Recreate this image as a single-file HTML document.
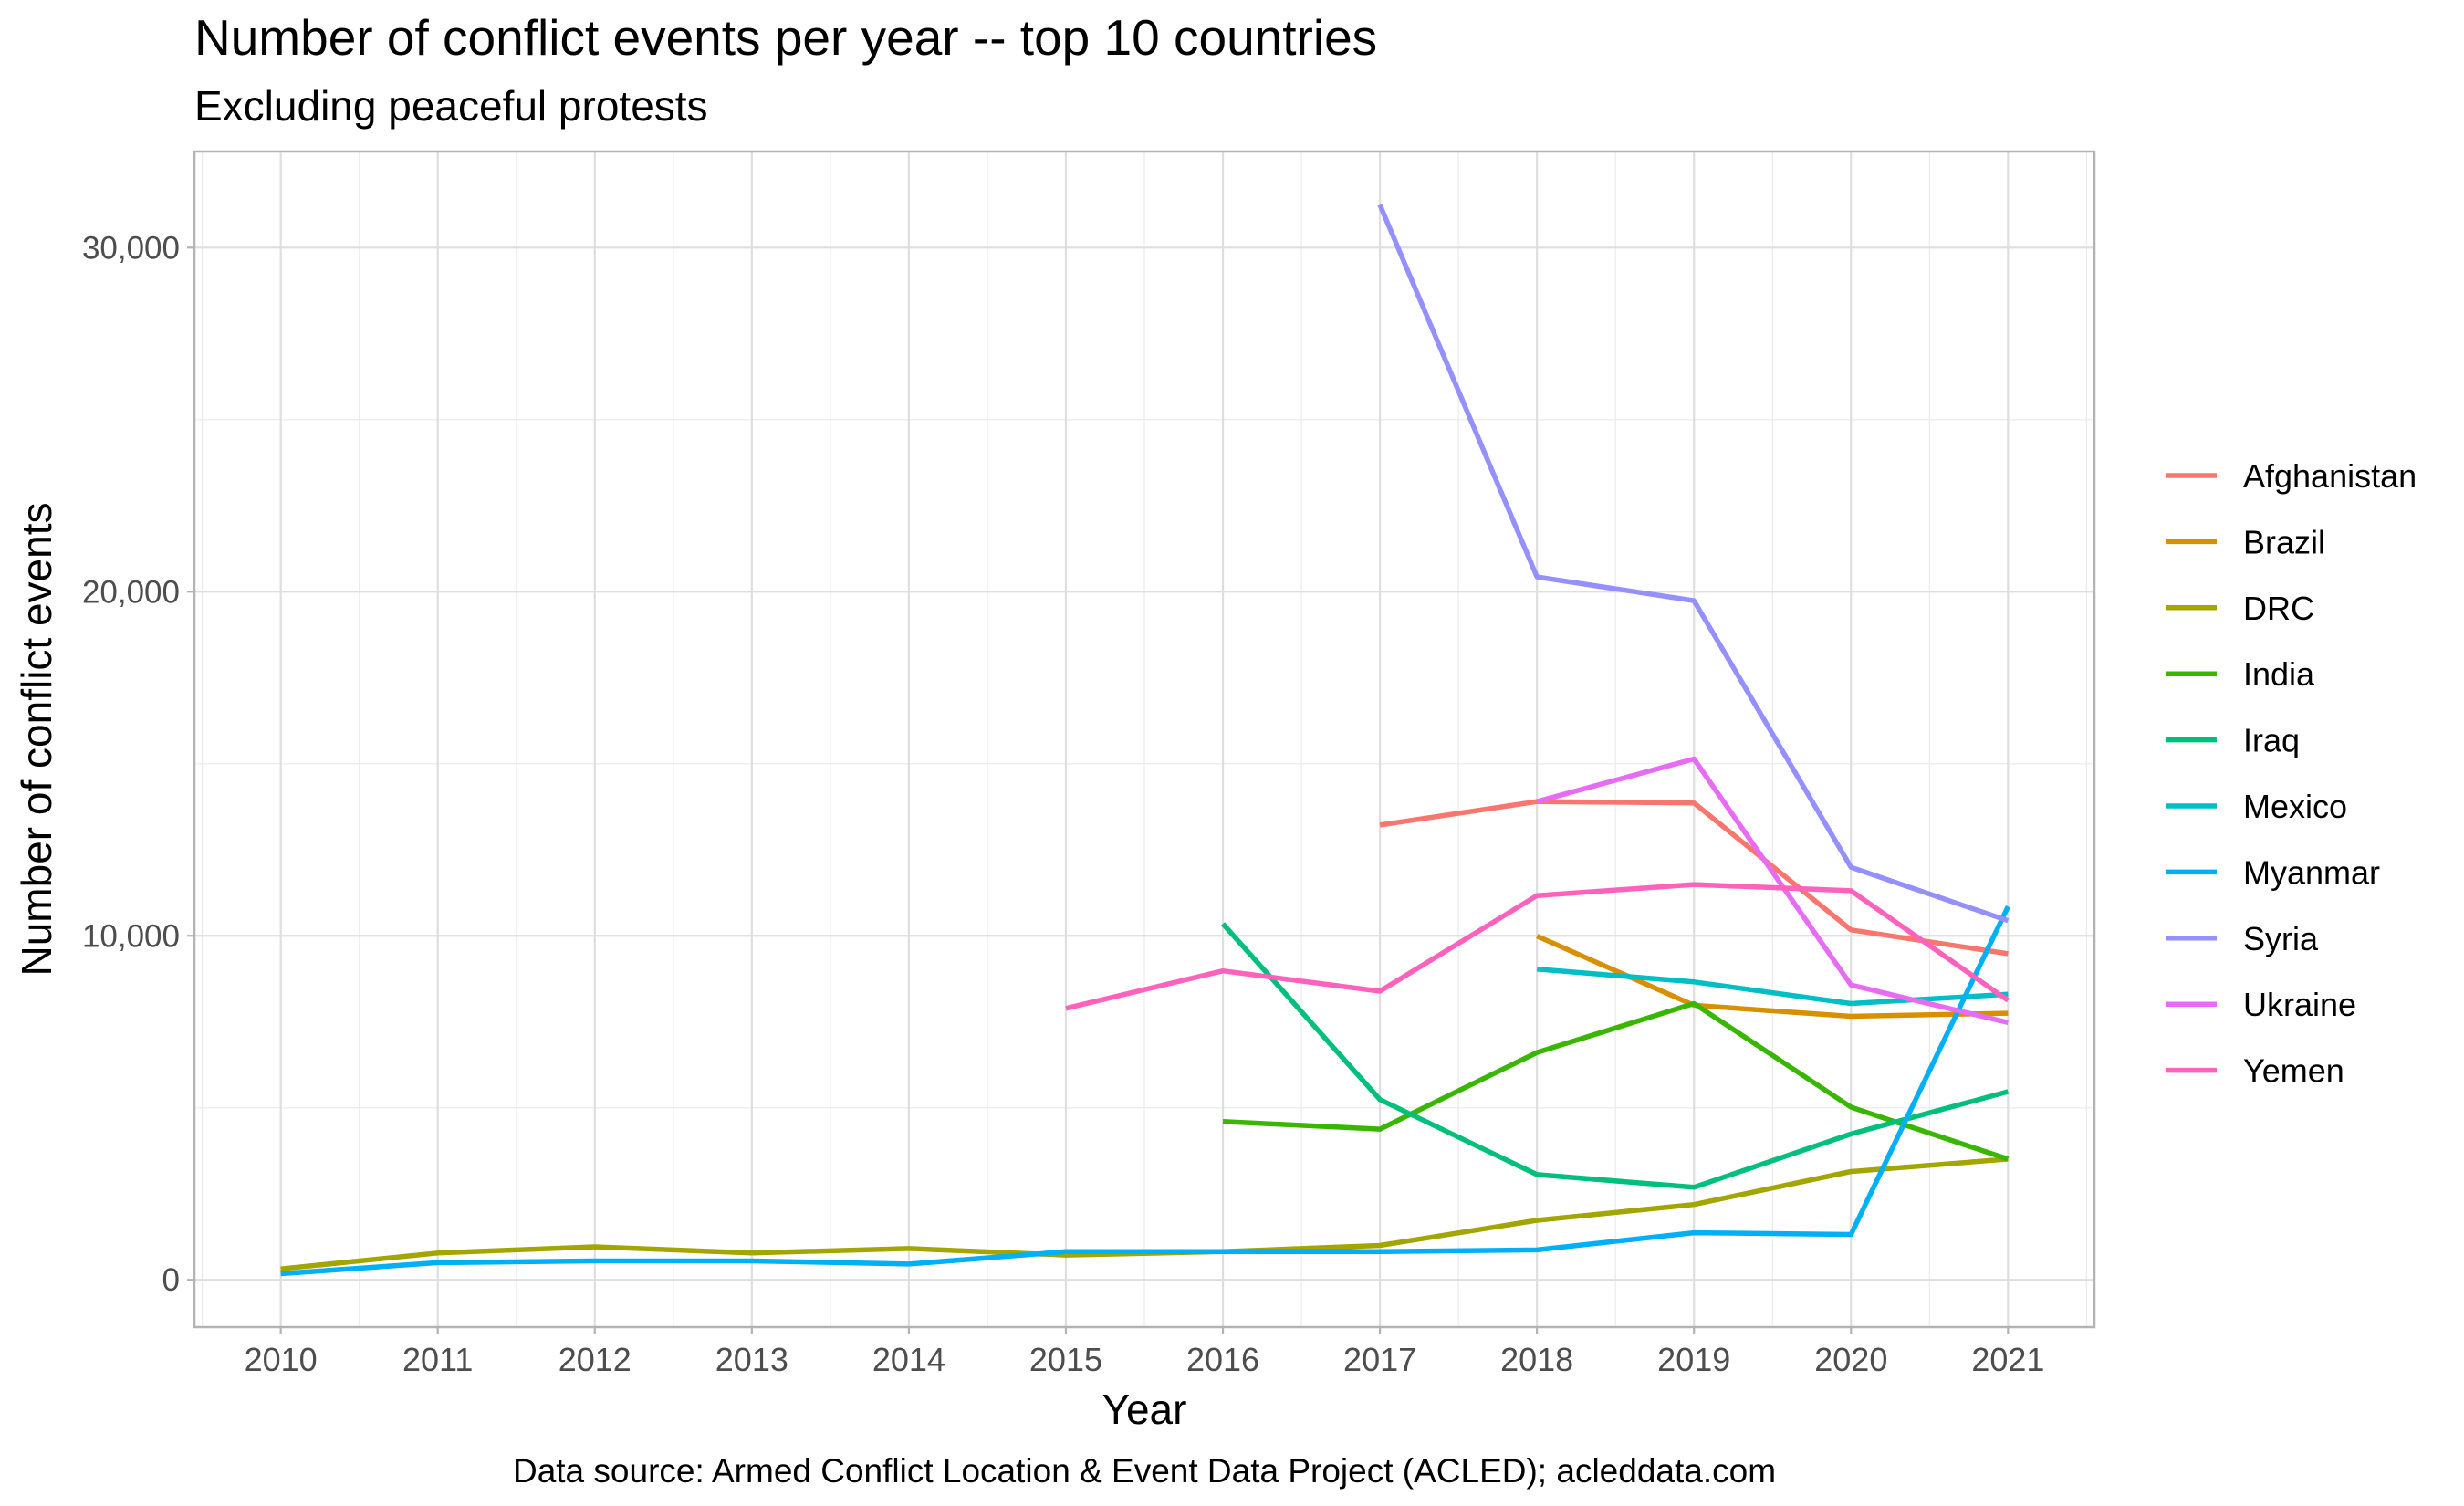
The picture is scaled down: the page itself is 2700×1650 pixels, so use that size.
<!DOCTYPE html>
<html><head><meta charset="utf-8"><style>
html,body{margin:0;padding:0;background:#fff;}
svg{display:block;font-family:"Liberation Sans",Arial,sans-serif;}
</style></head><body>
<svg id="chart" width="2700" height="1650" viewBox="0 0 2700 1650" xmlns="http://www.w3.org/2000/svg">
<rect width="2700" height="1650" fill="#fff"/>
<text x="213" y="60" font-size="55" fill="#000">Number of conflict events per year -- top 10 countries</text>
<text x="213" y="132" font-size="46" fill="#000">Excluding peaceful protests</text>
<g id="grid"></g>
<g id="series"></g>
<rect x="213" y="166" width="2082" height="1288" fill="none" stroke="#b3b3b3" stroke-width="2.5"/>
<g id="axes"></g>
<text x="1254" y="1560" font-size="46" text-anchor="middle" fill="#000">Year</text>
<text transform="translate(56,810) rotate(-90)" font-size="46" text-anchor="middle" fill="#000">Number of conflict events</text>
<text x="1254" y="1624" font-size="37" text-anchor="middle" fill="#000">Data source: Armed Conflict Location &amp; Event Data Project (ACLED); acleddata.com</text>
<g id="legend"></g>
</svg>
<script>
const years = [2010,2011,2012,2013,2014,2015,2016,2017,2018,2019,2020,2021];
const countries = ["Afghanistan","Brazil","DRC","India","Iraq","Mexico","Myanmar","Syria","Ukraine","Yemen"];
const colors = ["#F8766D","#D89000","#A3A500","#39B600","#00BF7D","#00BFC4","#00B0F6","#9590FF","#E76BF3","#FF62BC"];
const yTicks = [0,10000,20000,30000];
const yTickLabels = ["0","10,000","20,000","30,000"];
const afghanistan = [null,null,null,null,null,null,null,13220,13900,13860,10170,9480];
const brazil = [null,null,null,null,null,null,null,null,9990,7980,7660,7750];
const drc = [320,780,960,780,910,720,820,1000,1730,2190,3150,3510];
const india = [null,null,null,null,null,null,4600,4380,6610,8030,5020,3510];
const iraq = [null,null,null,null,null,null,10350,5240,3060,2690,4240,5470];
const mexico = [null,null,null,null,null,null,null,null,9030,8660,8030,8300];
const myanmar = [180,500,550,550,460,820,820,820,870,1370,1320,10850];
const syria = [null,null,null,null,null,null,null,31240,20430,19740,11990,10440];
const ukraine = [null,null,null,null,null,null,null,null,13900,15140,8570,7480];
const yemen = [null,null,null,null,null,7890,8980,8390,11170,11490,11310,8120];
const seriesValues = [afghanistan,brazil,drc,india,iraq,mexico,myanmar,syria,ukraine,yemen];

const NS="http://www.w3.org/2000/svg";
const PL=213,PR=2295,PT=166,PB=1454;
const allV=seriesValues.flat().filter(v=>v!==null);
const vmin=Math.min(...allV),vmax=Math.max(...allV);
const ypad=(vmax-vmin)*0.05;
const y0=vmin-ypad,y1=vmax+ypad;
const xmin=years[0],xmax=years[years.length-1],xpad=(xmax-xmin)*0.05;
const x=v=>PL+(v-(xmin-xpad))/((xmax+xpad)-(xmin-xpad))*(PR-PL);
const y=v=>PB-(v-y0)/(y1-y0)*(PB-PT);
function mk(tag,attrs,parent){const e=document.createElementNS(NS,tag);for(const k in attrs)e.setAttribute(k,attrs[k]);parent.appendChild(e);return e;}
const grid=document.getElementById('grid'),axes=document.getElementById('axes'),ser=document.getElementById('series'),leg=document.getElementById('legend');
for(let i=0;i<yTicks.length+1;i++){const v=yTicks[0]-5000+i*10000;if(v<y0||v>y1)continue;
 const l=mk('line',{x1:PL,x2:PR,y1:y(v),y2:y(v),stroke:'#ebebeb','stroke-width':1.2},grid);
 
 }
for(let i=0;i<=years.length;i++){const v=years[0]-0.5+i;
 const l=mk('line',{x1:x(v),x2:x(v),y1:PT,y2:PB,stroke:'#ebebeb','stroke-width':1.2},grid);
 
 }
yTicks.forEach((v,i)=>{
 const l=mk('line',{x1:PL,x2:PR,y1:y(v),y2:y(v),stroke:'#dedede','stroke-width':2.2},grid);
 
 
 const t=mk('line',{x1:PL-8,x2:PL,y1:y(v),y2:y(v),stroke:'#b3b3b3','stroke-width':2.2},axes);
 
 
 const tx=mk('text',{x:PL-16,y:y(v)+12,'font-size':35,'text-anchor':'end',fill:'#4d4d4d'},axes);
 tx.textContent=yTickLabels[i];
 
 
});
years.forEach(v=>{
 const l=mk('line',{x1:x(v),x2:x(v),y1:PT,y2:PB,stroke:'#dedede','stroke-width':2.2},grid);
 
 
 const t=mk('line',{x1:x(v),x2:x(v),y1:PB,y2:PB+8,stroke:'#b3b3b3','stroke-width':2.2},axes);
 
 
 const tx=mk('text',{x:x(v),y:PB+48,'font-size':36,'text-anchor':'middle',fill:'#4d4d4d'},axes);
 tx.textContent=v;
 
 
});
seriesValues.forEach((vals,si)=>{
 let d='',started=false;
 vals.forEach((v,i)=>{if(v===null){started=false;return;}d+=(started?'L':'M')+x(years[i]).toFixed(1)+','+y(v).toFixed(1);started=true;});
 const p=mk('path',{d:d,fill:'none',stroke:colors[si],'stroke-width':5.5,'stroke-linejoin':'round'},ser);
 
 
 const ly=521+si*72.4;
 const k=mk('line',{x1:2373,x2:2429,y1:ly,y2:ly,stroke:colors[si],'stroke-width':5.5},leg);
 
 
 const t=mk('text',{x:2458,y:ly+13,'font-size':36,fill:'#000'},leg);
 t.textContent=countries[si];
 
 
});
</script>
</body></html>
